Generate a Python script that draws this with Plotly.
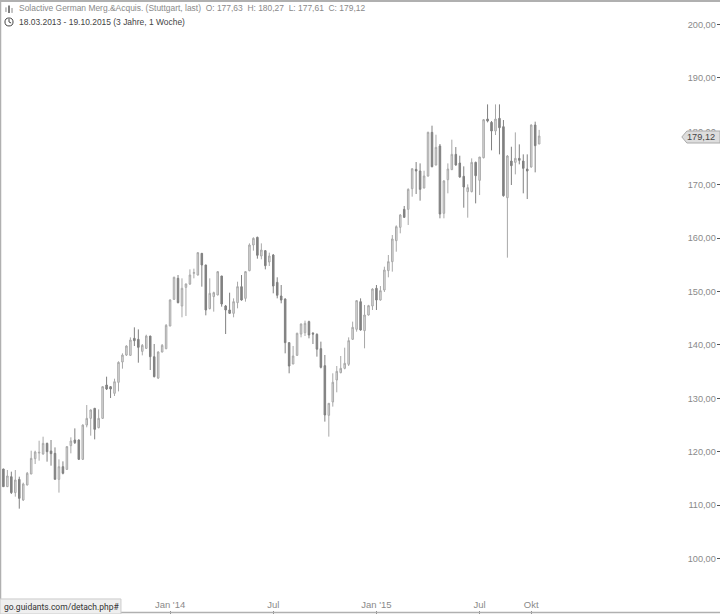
import pandas as pd
import plotly.graph_objects as go

dates = pd.date_range("2013-03-18", periods=136, freq="7D")

opens = [116.76,113.45,115.32,112.33,114.82,110.95,113.76,115.82,118.69,119.75,119.57,121.56,120.13,119.69,114.82,117.19,116.69,121.13,122.19,122.19,118.57,124.99,126.24,128.12,124.5,126.24,132.49,132.18,130.93,132.99,136.8,138.1,138.04,141.23,141.04,138.79,139.35,141.66,137.79,133.79,138.67,139.29,
143.54,148.54,152.47,147.29,150.78,151.41,153.41,153.09,157.15,154.97,146.79,149.04,149.35,152.91,147.29,146.54,145.91,147.91,150.91,148.72,153.9,158.71,160.15,156.65,157.65,155.53,156.84,151.72,149.16,148.6,140.42,136.42,138.05,142.04,142.29,144.36,142.17,141.98,139.3,136.11,126.81,129.32,133.43,134.8,135.61,136.36,
141.05,142.92,148.1,142.67,145.6,147.29,150.6,148.41,150.28,153.91,155.59,159.52,162.02,165.39,165.39,169.26,172.88,172.57,169.39,171.63,179.81,173.69,177.25,164.64,170.94,172.82,175.69,174.07,171.57,168.7,168.7,174.19,170.82,175.06,182.31,181.68,180.06,182.43,180.87,167.57,174.44,174.19,174.94,174.44,172.94,173.32,181.18,177.63]
highs = [116.8,116.57,116.26,116.57,115.32,114.2,116.2,120.19,120.19,122.06,122.81,121.69,122.19,120.81,118.57,118.19,121.06,122.69,124.37,122.31,125.12,128.74,127.93,128.2,127.93,132.3,134.05,132.3,133.67,136.92,138.42,139.92,141.41,143.29,142.91,140.17,141.91,141.7,140.17,138.79,140.17,143.91,
148.54,152.78,153.09,152.47,151.5,154.15,154.28,157.3,157.2,155.0,152.47,149.97,153.8,152.9,147.48,149.78,148.72,151.84,153.09,153.8,159.02,160.15,160.27,159.02,157.77,157.28,157.03,152.66,151.22,148.72,140.5,139.8,142.29,144.0,144.54,144.54,142.42,142.17,140.61,138.11,129.1,134.68,136.05,137.92,139.48,141.42,
144.36,148.41,148.72,147.48,147.5,150.6,151.22,151.03,154.65,156.84,160.58,162.39,164.52,166.02,169.32,173.07,174.25,174.0,172.63,179.94,181.06,179.37,177.63,170.88,174.0,178.44,177.06,175.44,173.44,170.07,174.94,174.32,175.2,182.31,185.05,181.93,185.05,185.05,182.12,175.56,177.12,179.81,177.56,175.69,175.69,181.31,181.81,180.27]
lows = [113.4,113.4,112.08,111.58,109.33,110.76,113.7,115.8,117.69,118.32,119.44,118.13,117.38,114.8,112.33,115.76,116.57,119.69,121.44,118.44,118.44,124.56,123.0,122.31,124.37,126.18,131.55,130.05,130.43,131.3,135.55,137.92,137.92,139.79,136.67,138.04,139.3,135.3,133.92,133.61,138.6,139.2,
143.5,148.41,147.79,145.17,145.42,151.22,152.47,153.0,150.91,145.54,146.66,146.23,149.3,147.16,142.04,145.79,145.17,146.85,148.29,148.1,153.8,157.65,156.15,156.03,154.15,154.78,149.66,148.72,147.79,138.42,134.68,136.4,137.92,141.42,141.67,141.23,140.17,137.8,135.6,125.63,122.82,128.44,131.12,134.68,135.43,136.05,
140.92,142.48,142.67,139.36,145.5,146.54,146.54,148.29,149.91,152.66,153.72,157.46,160.9,163.8,162.46,167.76,168.26,167.01,169.3,171.51,173.26,173.63,163.71,163.71,168.39,172.8,173.57,171.32,165.7,163.83,168.57,166.51,168.07,174.94,181.68,176.44,179.31,175.69,167.76,156.34,169.95,171.94,173.82,168.39,167.32,173.19,172.32,177.61]
closes = [113.45,115.45,112.33,114.7,111.26,113.95,115.95,118.75,119.94,119.88,121.56,120.0,119.63,114.82,117.19,115.95,120.94,122.0,121.69,118.57,124.99,126.24,127.81,124.18,126.24,132.18,131.74,131.74,133.11,136.73,138.1,139.79,140.91,140.79,139.54,139.92,141.66,137.79,134.05,138.67,139.92,143.66,
148.41,152.66,147.91,150.6,151.41,153.09,153.53,157.28,154.97,146.54,149.66,149.79,153.72,147.66,146.54,145.91,148.1,150.91,148.41,153.72,158.71,159.96,156.78,157.77,154.84,156.65,151.03,149.29,148.41,140.42,136.05,137.92,142.17,143.92,144.04,141.86,142.04,139.2,135.8,126.88,129.06,133.0,135.05,135.61,136.55,140.8,
143.29,148.29,142.79,145.6,147.35,150.47,148.41,150.16,154.03,155.59,159.84,162.14,164.33,163.89,169.14,173.0,172.57,169.14,171.63,179.81,173.38,177.0,164.52,170.7,172.94,175.69,173.69,171.44,169.57,169.45,174.19,171.69,175.19,182.18,181.93,180.06,182.31,180.68,167.95,175.38,173.57,174.94,174.57,173.07,172.57,181.18,177.31,179.12]

y_tick_vals = [100, 110, 120, 130, 140, 150, 160, 170, 180, 190, 200]
x_tick_vals = ["2014-01-06", "2014-07-07", "2015-01-05", "2015-07-06", "2015-10-05"]
x_tick_text = ["Jan '14", "Jul", "Jan '15", "Jul", "Okt"]

FONT = "Liberation Sans, Arial, sans-serif"
GREY = "#8a8a8a"

fig = go.Figure(go.Candlestick(
    x=dates, open=opens, high=highs, low=lows, close=closes,
    increasing=dict(line=dict(color="#a8a8a8", width=1), fillcolor="#e2e2e2"),
    decreasing=dict(line=dict(color="#808080", width=1), fillcolor="#808080"),
    whiskerwidth=0, showlegend=False,
))

shapes = [
    dict(type="line", xref="paper", yref="paper", x0=0, x1=1, y0=0.9985, y1=0.9985, line=dict(color="#b0b0b0", width=2)),
    dict(type="line", xref="paper", yref="paper", x0=0.0007, x1=0.0007, y0=0, y1=1, line=dict(color="#b0b0b0", width=1.5)),
    dict(type="line", xref="paper", yref="paper", x0=0, x1=1, y0=0.0025, y1=0.0025, line=dict(color="#b0b0b0", width=1.5)),
    # price tag
    dict(type="path", xref="paper", yref="paper",
         path="M 0.947 0.7769 L 0.954 0.7866 L 1 0.7866 L 1 0.7671 L 0.954 0.7671 Z",
         fillcolor="#dddddd", line=dict(color="#aaaaaa", width=1)),
    # status bar
    dict(type="rect", xref="paper", yref="paper", x0=0, x1=0.168, y0=0, y1=0.0245,
         fillcolor="#efefef", line=dict(color="#cccccc", width=1)),
    # clock icon
    dict(type="circle", xref="paper", yref="paper", x0=0.0069, x1=0.0181, y0=0.9577, y1=0.9707,
         line=dict(color="#444444", width=1)),
    dict(type="line", xref="paper", yref="paper", x0=0.0125, x1=0.0125, y0=0.9642, y1=0.9690, line=dict(color="#444444", width=1)),
    dict(type="line", xref="paper", yref="paper", x0=0.0125, x1=0.0155, y0=0.9642, y1=0.9625, line=dict(color="#444444", width=1)),
    # chart-type icon
    dict(type="line", xref="paper", yref="paper", x0=0.0083, x1=0.0083, y0=0.9805, y1=0.9880, line=dict(color="#888888", width=1)),
    dict(type="line", xref="paper", yref="paper", x0=0.0125, x1=0.0125, y0=0.9790, y1=0.9910, line=dict(color="#555555", width=1.5)),
    dict(type="line", xref="paper", yref="paper", x0=0.0167, x1=0.0167, y0=0.9790, y1=0.9870, line=dict(color="#888888", width=1)),
]

annotations = [
    dict(xref="paper", yref="paper", x=0.0236, y=0.9870, xanchor="left", yanchor="middle", showarrow=False,
         text="Solactive German Merg.&amp;Acquis. (Stuttgart, last)  O: 177,63  H: 180,27  L: 177,61  C: 179,12",
         font=dict(family=FONT, size=8.45, color=GREY)),
    dict(xref="paper", yref="paper", x=0.0236, y=0.9642, xanchor="left", yanchor="middle", showarrow=False,
         text="18.03.2013 - 19.10.2015 (3 Jahre, 1 Woche)",
         font=dict(family=FONT, size=8.45, color="#444444")),
    dict(xref="paper", yref="paper", x=0.9958, y=0.7769, xanchor="right", yanchor="middle", showarrow=False,
         text="179,12", font=dict(family=FONT, size=9.2, color="#444444")),
    dict(xref="paper", yref="paper", x=0.0028, y=0.0122, xanchor="left", yanchor="middle", showarrow=False,
         text="go.guidants.com/detach.php#", font=dict(family="Roboto, sans-serif", size=8.5, color="#333333")),
]

fig.update_layout(
    width=720, height=614, margin=dict(l=0, r=0, t=0, b=0),
    paper_bgcolor="white", plot_bgcolor="white",
    separators=",.", showlegend=False, boxgap=0.45,
    shapes=shapes, annotations=annotations,
    font=dict(family=FONT, size=9.2, color=GREY),
    xaxis=dict(
        range=["2013-03-12", "2016-09-02"], rangeslider=dict(visible=False),
        tickmode="array", tickvals=x_tick_vals, ticktext=x_tick_text,
        ticks="inside", ticklen=3, tickcolor="#888888", ticklabelposition="inside",
        showgrid=False, zeroline=False, showline=False,
        tickfont=dict(family=FONT, size=9.5, color=GREY),
    ),
    yaxis=dict(
        side="right", range=[89.6, 204.6],
        tickmode="array", tickvals=y_tick_vals, tickformat=".2f",
        ticks="inside", ticklen=3, tickcolor="#555555", ticklabelposition="inside",
        showgrid=False, zeroline=False, showline=False,
        tickfont=dict(family=FONT, size=9.2, color=GREY),
    ),
)

fig.write_html(
    "out.html",
    config=dict(displayModeBar=False),
    post_script="document.body.style.margin='0';document.body.style.overflow='hidden';",
)
